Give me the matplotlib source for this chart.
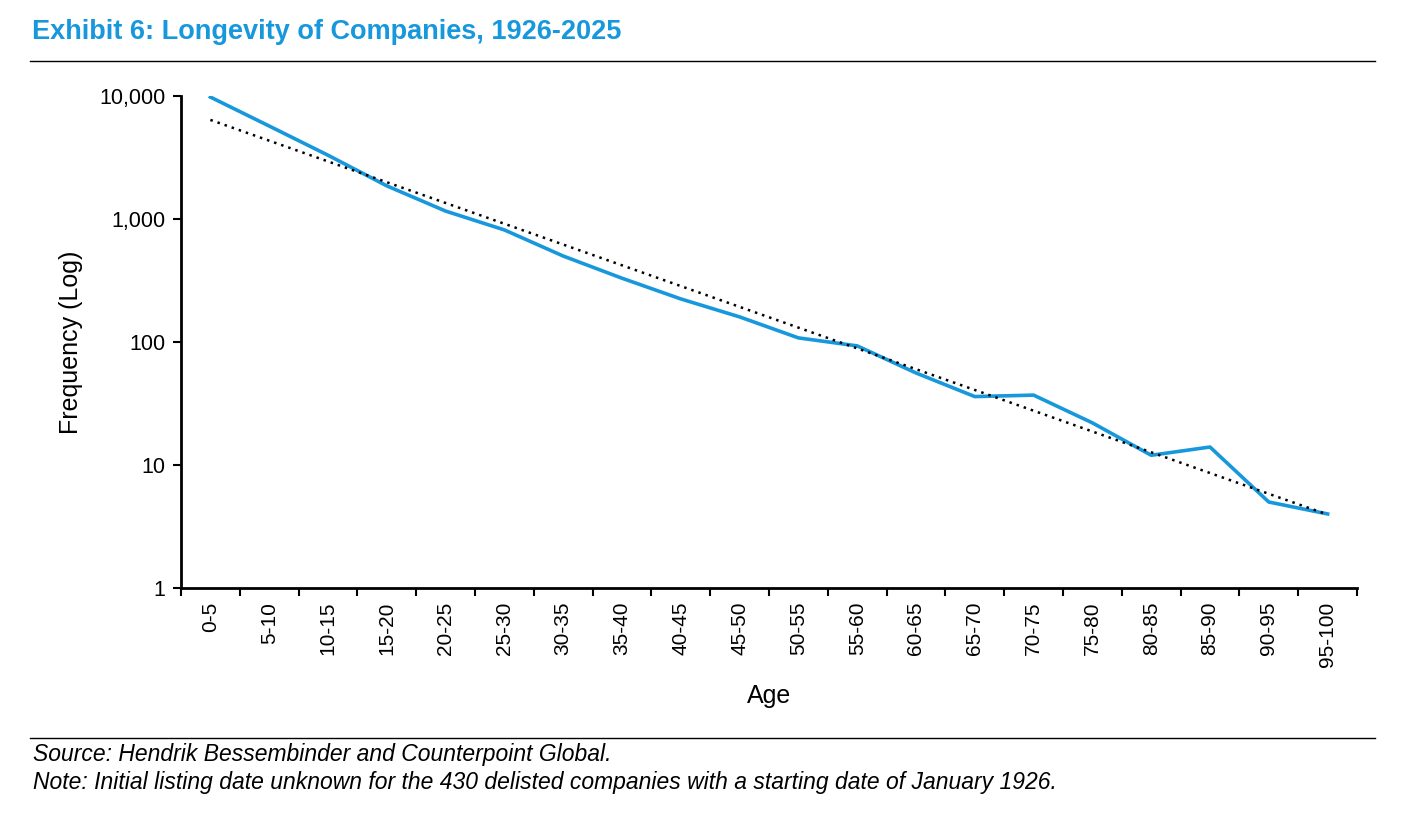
import matplotlib
matplotlib.use("Agg")
import matplotlib.pyplot as plt
import numpy as np
from matplotlib.ticker import FixedLocator, NullLocator, FuncFormatter

plt.rcParams['font.family'] = ['Liberation Sans', 'DejaVu Sans']

categories = ["0-5","5-10","10-15","15-20","20-25","25-30","30-35","35-40","40-45","45-50",
              "50-55","55-60","60-65","65-70","70-75","75-80","80-85","85-90","90-95","95-100"]
frequency = [9800, 5700, 3300, 1860, 1160, 815, 500, 330, 224, 160,
             108, 93, 56, 36, 37, 22, 12, 14, 5, 4]

blue = "#1798DC"
fig = plt.figure(figsize=(14.01, 8.16), dpi=100)
ax = fig.add_axes([181/1401, 1-588/816, (1357-181)/1401, (588-96)/816])

x = np.arange(len(categories))
ax.plot(x, frequency, color=blue, lw=2.6, zorder=3)
coef = np.polyfit(x, np.log(frequency), 1)
ax.plot(x, np.exp(np.polyval(coef, x)), color="black", lw=1.8, ls=(0, (1, 2)), zorder=4)

ax.set_yscale("log")
ax.set_ylim(1, 10000)
ax.set_xlim(-0.5, len(categories) - 0.5)
ax.yaxis.set_major_locator(FixedLocator([1, 10, 100, 1000, 10000]))
ax.yaxis.set_minor_locator(NullLocator())
ax.yaxis.set_major_formatter(FuncFormatter(lambda v, p: f"{int(round(v)):,}"))
ax.set_xticks(x)
ax.set_xticklabels(categories, rotation=90, fontsize=15)
ax.set_xticks(np.arange(-0.5, len(categories)), minor=True)
ax.tick_params(axis='x', which='major', length=0, pad=10)
ax.tick_params(axis='x', which='minor', length=6, width=1.5, direction='out')
ax.tick_params(axis='y', which='major', length=6, width=1.5, direction='out', labelsize=15.5, pad=5)
for s in ["top", "right"]:
    ax.spines[s].set_visible(False)
for s in ["left", "bottom"]:
    ax.spines[s].set_linewidth(2)
ax.set_ylabel("Frequency (Log)", fontsize=18, labelpad=12)
ax.set_xlabel("Age", fontsize=18, labelpad=12)

fig.text(32/1401, 1-32/816, "Exhibit 6: Longevity of Companies, 1926-2025", color=blue,
         fontsize=19.5, fontweight="bold", va="center")
fig.add_artist(plt.Line2D([30/1401, 1375/1401], [1-61/816, 1-61/816], color="black", lw=1))
fig.add_artist(plt.Line2D([30/1401, 1375/1401], [1-738/816, 1-738/816], color="black", lw=1))
fig.text(33/1401, 1-755/816, "Source: Hendrik Bessembinder and Counterpoint Global.",
         fontsize=16.5, style="italic", va="center")
fig.text(33/1401, 1-782/816, "Note: Initial listing date unknown for the 430 delisted companies with a starting date of January 1926.",
         fontsize=16.5, style="italic", va="center")
fig.savefig("out.png", dpi=100)
